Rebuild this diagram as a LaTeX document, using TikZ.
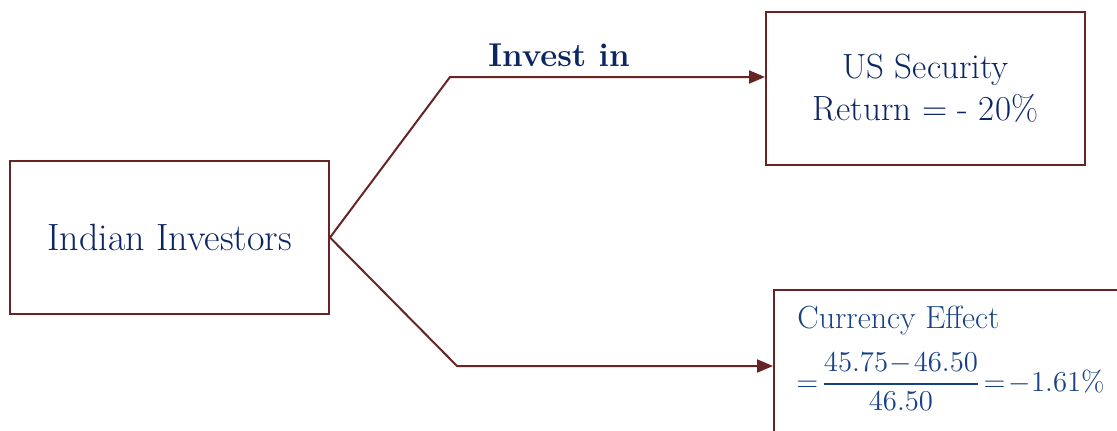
\documentclass[tikz,border=0pt]{standalone}
\usepackage{amsmath}
\usetikzlibrary{arrows.meta}
\definecolor{maroon}{RGB}{102,36,36}
\definecolor{navy}{RGB}{12,38,100}
\definecolor{effectblue}{RGB}{24,66,134}
\tikzset{party/.style={rectangle,draw=maroon,fill=white,line width=1pt,text=navy,align=center,font=\fontsize{17.5}{21}\selectfont,minimum width=159.5pt,minimum height=76.5pt}}
\tikzset{effectbox/.style={rectangle,draw=maroon,fill=white,line width=1pt,minimum width=180pt,minimum height=77pt}}
\tikzset{flow/.style={draw=maroon,line width=1pt,-{Triangle[length=8pt,width=6.5pt]}}}
\tikzset{flowlabel/.style={text=navy,font=\fontsize{16.5}{20}\selectfont\bfseries}}
\tikzset{effecttext/.style={text=effectblue,inner sep=0pt,font=\fontsize{16}{19}\selectfont}}
\newcommand{\tightmath}{\medmuskip=1mu\thickmuskip=2mu}

\begin{document}
\begin{tikzpicture}[x=0.5pt,y=-0.5pt]
\useasboundingbox (0,0) rectangle (1117,430);
\clip (0,0) rectangle (1117,430);
	\node (inv) [party,font=\fontsize{19}{23}\selectfont] at (169.5,237.5) {Indian Investors} ;
	\node (us) [party] at (925.5,88.5) {US Security\\Return = - 20\%} ;
	\node (effect) [effectbox,anchor=north west] at (773,289) {} ;
	\node (cname) [effecttext,anchor=base west] at (797,328) {Currency Effect} ;
	\node (cfrac) [effecttext,anchor=west,font=\fontsize{14.5}{17}\selectfont] at (796,382) {$\tightmath=\dfrac{45.75-46.50}{46.50}=-1.61\%$} ;
	% bends of the two connectors
	\coordinate (upbend) at (450,77) ;
	\coordinate (lowbend) at (457,366) ;
	\draw [flow] (inv.east) -- (upbend) -- (upbend -| us.west) ;
	\draw [flow] (inv.east) -- (lowbend) -- (lowbend -| effect.west) ;
	\node (invest) [flowlabel] at (559,55) {Invest in} ;
\end{tikzpicture}
\end{document}
